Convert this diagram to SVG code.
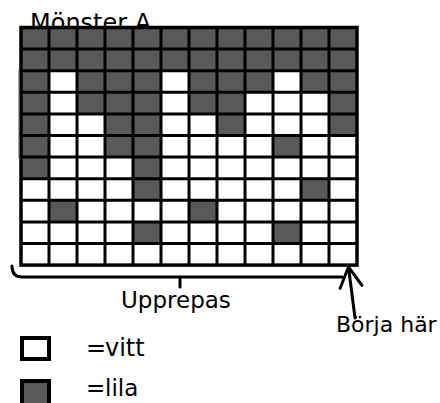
<svg xmlns="http://www.w3.org/2000/svg" width="440" height="403" viewBox="0 0 440 403">
<defs>
<style>
.t{font-family:"DejaVu Sans",sans-serif;font-size:23px;fill:#000}
.d{fill:#595959}
.g{fill:none;stroke:#000;stroke-width:3}
.ln{fill:none;stroke:#000;stroke-width:3;stroke-linecap:round;stroke-linejoin:round}
</style>
<marker id="ah" viewBox="-24 -14 28 28" refX="0" refY="0" markerWidth="28" markerHeight="28" markerUnits="userSpaceOnUse" orient="auto">
<path d="M-20,-11 L0,0 L-20,11" fill="none" stroke="#000" stroke-width="3" stroke-linecap="round" stroke-linejoin="round"/>
</marker>
</defs>
<rect width="440" height="403" fill="#fff"/>
<g id="title"><text class="t" x="30" y="31" style="font-size:24px">Mönster A</text></g>
<g id="pattern">
<rect x="21" y="27.5" width="336" height="237.6" fill="#fff"/>
<rect class="d" x="21" y="27.5" width="336" height="43.2"/>
<rect class="d" x="21" y="70.7" width="28" height="108"/>
<rect class="d" x="77" y="70.7" width="84" height="21.6"/>
<rect class="d" x="189" y="70.7" width="84" height="21.6"/>
<rect class="d" x="301" y="70.7" width="56" height="21.6"/>
<rect class="d" x="77" y="92.3" width="84" height="21.6"/>
<rect class="d" x="189" y="92.3" width="56" height="21.6"/>
<rect class="d" x="329" y="92.3" width="28" height="43.2"/>
<rect class="d" x="105" y="113.9" width="56" height="43.2"/>
<rect class="d" x="217" y="113.9" width="28" height="21.6"/>
<rect class="d" x="273" y="135.5" width="28" height="21.6"/>
<rect class="d" x="133" y="157.1" width="28" height="43.2"/>
<rect class="d" x="301" y="178.7" width="28" height="21.6"/>
<rect class="d" x="49" y="200.3" width="28" height="21.6"/>
<rect class="d" x="189" y="200.3" width="28" height="21.6"/>
<rect class="d" x="133" y="221.9" width="28" height="21.6"/>
<rect class="d" x="273" y="221.9" width="28" height="21.6"/>
<path class="g" d="M49,27.5V265.1M77,27.5V265.1M105,27.5V265.1M133,27.5V265.1M161,27.5V265.1M189,27.5V265.1M217,27.5V265.1M245,27.5V265.1M273,27.5V265.1M301,27.5V265.1M329,27.5V265.1M21,49.1H357M21,70.7H357M21,92.3H357M21,113.9H357M21,135.5H357M21,157.1H357M21,178.7H357M21,200.3H357M21,221.9H357M21,243.5H357"/>
<rect x="21" y="27.5" width="336" height="237.6" fill="none" stroke="#000" stroke-width="3.5"/>
<line x1="19" y1="70" x2="19" y2="158" stroke="#555" stroke-width="1"/>
</g>
<g id="connectors">
<path class="ln" d="M12,266 Q12,277 22,277 L342,277 M180,277 V287"/>
<line class="ln" x1="355" y1="318" x2="348.5" y2="267" marker-end="url(#ah)"/>
</g>
<g id="label-upprepas"><text class="t" x="121" y="308">Upprepas</text></g>
<g id="label-borja"><text class="t" x="336" y="332" style="font-size:22px">Börja här</text></g>
<g id="legend-vitt">
<rect x="22" y="338" width="27" height="21" fill="#fff" stroke="#000" stroke-width="4"/>
<text class="t" x="86" y="356" style="font-size:24px">=<tspan x="105">vitt</tspan></text>
</g>
<g id="legend-lila">
<rect x="22" y="381" width="27" height="24" fill="#595959" stroke="#000" stroke-width="4"/>
<text class="t" x="86" y="396" style="font-size:23px">=<tspan x="105">lila</tspan></text>
</g>
</svg>
